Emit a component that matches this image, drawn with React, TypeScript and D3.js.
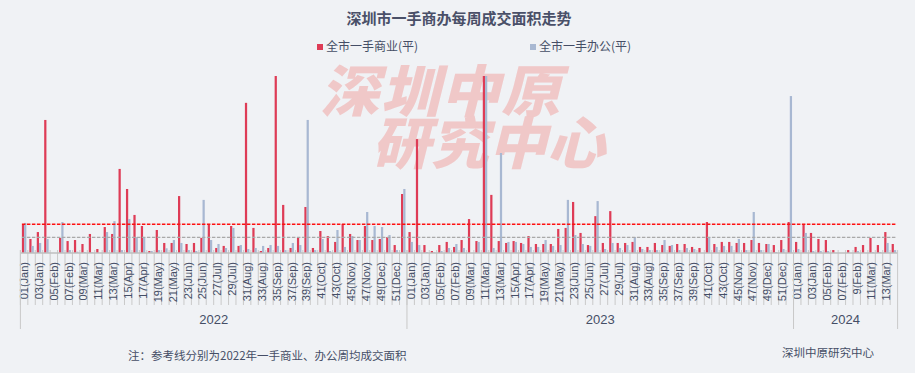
import * as d3 from 'd3';
import { useEffect, useRef } from 'react';

// 深圳一手商办每周成交面积（平方米）
const years = ['2022', '2023', '2024'];

const tickLabels2022 = [
  '01(Jan)', '03(Jan)', '05(Feb)', '07(Feb)', '09(Mar)', '11(Mar)', '13(Mar)', '15(Apr)', '17(Apr)',
  '19(May)', '21(May)', '23(Jun)', '25(Jun)', '27(Jul)', '29(Jul)', '31(Aug)', '33(Aug)', '35(Sep)',
  '37(Sep)', '39(Sep)', '41(Oct)', '43(Oct)', '45(Nov)', '47(Nov)', '49(Dec)', '51(Dec)',
];
const tickLabels2023 = [
  '01(Jan)', '03(Jan)', '05(Feb)', '07(Feb)', '09(Mar)', '11(Mar)', '13(Mar)', '15(Apr)', '17(Apr)',
  '19(May)', '21(May)', '23(Jun)', '25(Jun)', '27(Jul)', '29(Jul)', '31(Aug)', '33(Aug)', '35(Sep)',
  '37(Sep)', '39(Sep)', '41(Oct)', '43(Oct)', '45(Nov)', '47(Nov)', '49(Dec)', '51(Dec)',
];
const tickLabels2024 = ['01(Jan)', '03(Jan)', '05(Feb)', '07(Feb)', '9(Feb)', '11(Mar)', '13(Mar)'];

const commercial2022 = [
  9500, 4750, 7100, 45100, 0, 5100, 4050, 4400, 3050, 6450,
  1350, 8800, 6450, 28500, 21700, 12900, 9150, 680, 7800, 3400,
  3400, 19300, 3050, 3400, 5100, 9850, 1700, 2400, 9150, 2400,
  50900, 8500, 680, 1700, 69800, 16300, 1700, 5100, 15600, 1700,
  7450, 5750, 3750, 9850, 6450, 4400, 9150, 4400, 4750, 5400,
  2700, 20000,
];
const commercial2023 = [
  7100, 38600, 2700, 680, 2700, 3750, 2050, 4400, 11500, 4050,
  64000, 19700, 4050, 3400, 4050, 3400, 5750, 3050, 3050, 3050,
  8150, 8500, 17300, 6800, 2700, 12500, 3400, 14200, 3400, 3400,
  3750, 2050, 2050, 3400, 2700, 2400, 3050, 3050, 2050, 1700,
  10500, 3050, 3750, 3750, 3400, 3400, 4400, 3400, 3050, 2700,
  4400, 10500,
];
const commercial2024 = [3750, 9850, 6800, 4750, 4400, 1000, 0, 1000, 2050, 2700, 5100, 2700, 7100, 3050];

const office2022 = [
  10200, 2400, 3400, 4750, 0, 10500, 1000, 450, 340, 240,
  0, 7100, 10800, 1000, 11500, 5400, 5300, 680, 1000, 1600,
  4400, 3400, 1000, 680, 18000, 4400, 3050, 1700, 8500, 2700,
  1350, 1700, 2400, 2700, 2400, 1000, 3400, 2700, 45100, 1000,
  4750, 680, 7800, 2050, 5750, 4400, 13900, 9150, 8800, 6100,
  1000, 21700,
];
const office2023 = [
  3750, 2700, 340, 200, 680, 1700, 3050, 1700, 0, 3750,
  62000, 1700, 33900, 3750, 3750, 3050, 2050, 2050, 4400, 2400,
  2700, 18000, 6100, 3050, 2400, 17600, 1350, 3400, 1700, 2700,
  5400, 1350, 1000, 1000, 4400, 2700, 1000, 1700, 1350, 0,
  5400, 2050, 2400, 2400, 4750, 1000, 13900, 1000, 3050, 340,
  1350, 53200,
];
const office2024 = [1350, 6800, 680, 680, 680, 0, 0, 0, 680, 0, 340, 340, 3400, 1000];

const RED = '#de3c56';
const BLUE = '#a8b8d2';
const TEXT = '#454e66';
const CJK = '"Noto Sans CJK SC", "Microsoft YaHei", sans-serif';

export default function App() {
  const svgRef = useRef<SVGSVGElement>(null);

  useEffect(() => {
    if (!svgRef.current) return;
    const width = 915;
    const height = 373;
    const baseY = 253;

    const commercial = [commercial2022, commercial2023, commercial2024];
    const office = [office2022, office2023, office2024];
    const labels = [tickLabels2022, tickLabels2023, tickLabels2024];
    const rows = years.flatMap((yr, i) =>
      commercial[i].map((c, w) => ({
        key: `${yr}-${w + 1}`,
        year: yr,
        label: w % 2 === 0 ? labels[i][w / 2] : '',
        commercial: c,
        office: office[i][w],
      })),
    );

    const svg = d3.select(svgRef.current);
    svg.selectAll('*').remove();
    svg.attr('width', width).attr('height', height);

    svg.append('rect').attr('width', width).attr('height', height).attr('fill', '#f0f2f5');

    const x = d3.scaleBand().domain(rows.map((d) => d.key)).range([20.4, 897.6]);
    const y = d3.scaleLinear().domain([0, 60000]).range([baseY, 76]).clamp(true);
    const bw = x.bandwidth() * 0.3;
    const cx = (k: string) => (x(k) ?? 0) + x.bandwidth() / 2;

    // watermark
    const wm = svg
      .append('g')
      .attr('fill', '#f0c8c8')
      .style('font-family', CJK)
      .style('font-weight', 900)
      .style('font-size', '56px');
    wm.append('text')
      .attr('transform', 'translate(320,112) skewX(-14) scale(1.06,1)')
      .attr('letter-spacing', 1)
      .text('深圳中原');
    wm.append('text')
      .attr('transform', 'translate(372,164) skewX(-14) scale(1.04,1)')
      .attr('letter-spacing', 0)
      .text('研究中心');

    // title
    svg.append('text')
      .attr('x', 459)
      .attr('y', 19)
      .attr('dy', '0.35em')
      .attr('text-anchor', 'middle')
      .style('font-family', CJK)
      .style('font-weight', 700)
      .style('font-size', '15px')
      .attr('fill', '#4a5068')
      .text('深圳市一手商办每周成交面积走势');

    // legend
    const legend = [
      { name: '全市一手商业(平)', color: RED, x: 317 },
      { name: '全市一手办公(平)', color: BLUE, x: 530 },
    ];
    const lg = svg.append('g').selectAll('g').data(legend).join('g');
    lg.append('rect').attr('x', (d) => d.x).attr('y', 44).attr('width', 6).attr('height', 6).attr('fill', (d) => d.color);
    lg.append('text')
      .attr('x', (d) => d.x + 9)
      .attr('y', 47)
      .attr('dy', '0.35em')
      .style('font-family', CJK)
      .style('font-size', '12px')
      .attr('fill', TEXT)
      .text((d) => d.name);

    // bars
    svg.append('g')
      .selectAll('rect')
      .data(rows)
      .join('rect')
      .attr('x', (d) => cx(d.key) - bw)
      .attr('y', (d) => y(d.commercial))
      .attr('width', bw)
      .attr('height', (d) => baseY - y(d.commercial))
      .attr('fill', RED);

    svg.append('g')
      .selectAll('rect')
      .data(rows)
      .join('rect')
      .attr('x', (d) => cx(d.key))
      .attr('y', (d) => y(d.office))
      .attr('width', bw)
      .attr('height', (d) => baseY - y(d.office))
      .attr('fill', BLUE);

    // reference lines: 2022 weekly averages
    const avgC = d3.mean(commercial2022) ?? 0;
    const avgO = d3.mean(office2022) ?? 0;
    const [x0, x1] = x.range();
    svg.append('line')
      .attr('x1', x0 + 1.5).attr('x2', x1 - 1.5)
      .attr('y1', y(avgC)).attr('y2', y(avgC))
      .attr('stroke', '#ff1010').attr('stroke-width', 1.6).attr('stroke-dasharray', '3.5,1.5');
    svg.append('line')
      .attr('x1', x0 + 1.5).attr('x2', x1 - 1.5)
      .attr('y1', y(avgO)).attr('y2', y(avgO))
      .attr('stroke', '#a9a9a9').attr('stroke-width', 1.4).attr('stroke-dasharray', '3.5,1.5');

    // category axis
    const ax = svg.append('g');
    ax.selectAll('line.tick')
      .data(rows)
      .join('line')
      .attr('class', 'tick')
      .attr('x1', (d) => x(d.key) ?? 0)
      .attr('x2', (d) => x(d.key) ?? 0)
      .attr('y1', 250)
      .attr('y2', 305)
      .attr('stroke', '#c9c9c9')
      .attr('stroke-width', 1);

    ax.append('line')
      .attr('x1', x0).attr('x2', x1)
      .attr('y1', baseY).attr('y2', baseY)
      .attr('stroke', '#bfbfbf').attr('stroke-width', 1.5);

    ax.selectAll('text.wk')
      .data(rows.filter((d) => d.label))
      .join('text')
      .attr('class', 'wk')
      .attr('transform', (d) => `translate(${cx(d.key)},262) rotate(-90)`)
      .attr('dy', '0.35em')
      .attr('text-anchor', 'end')
      .style('font-family', '"Liberation Sans", Arial, sans-serif')
      .style('font-size', '11px')
      .attr('fill', TEXT)
      .text((d) => d.label);

    // year level
    const yearStarts = years.map((yr) => x(`${yr}-1`) ?? 0);
    const bounds = [...yearStarts, x1];
    ax.selectAll('line.yr')
      .data(bounds)
      .join('line')
      .attr('class', 'yr')
      .attr('x1', (d) => d)
      .attr('x2', (d) => d)
      .attr('y1', 250)
      .attr('y2', 329)
      .attr('stroke', '#c9c9c9')
      .attr('stroke-width', 1);

    ax.selectAll('text.yr')
      .data(years)
      .join('text')
      .attr('class', 'yr')
      .attr('x', (_, i) => (bounds[i] + bounds[i + 1]) / 2)
      .attr('y', 319)
      .attr('dy', '0.35em')
      .attr('text-anchor', 'middle')
      .style('font-family', '"Liberation Sans", Arial, sans-serif')
      .style('font-size', '13px')
      .attr('fill', TEXT)
      .text((d) => d);

    // notes
    svg.append('text')
      .attr('x', 128)
      .attr('y', 356)
      .attr('dy', '0.35em')
      .style('font-family', CJK)
      .style('font-size', '11.5px')
      .attr('fill', TEXT)
      .text('注：参考线分别为2022年一手商业、办公周均成交面积');
    svg.append('text')
      .attr('x', 874)
      .attr('y', 353)
      .attr('dy', '0.35em')
      .attr('text-anchor', 'end')
      .style('font-family', CJK)
      .style('font-size', '11.5px')
      .attr('fill', TEXT)
      .text('深圳中原研究中心');
  }, []);

  return <svg ref={svgRef} style={{ position: 'absolute', left: 0, top: 0, display: 'block' }} />;
}
